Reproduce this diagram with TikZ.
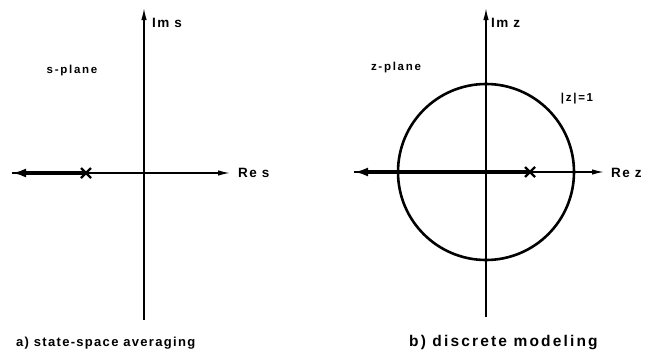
\documentclass[tikz,border=0pt]{standalone}
\usepackage{fontspec}
\setmainfont{Liberation Sans}[LetterSpace=10]
\usetikzlibrary{arrows.meta,calc}
\begin{document}
\begin{tikzpicture}[x=1pt,y=-1pt,
  axis/.style={line width=1.4pt,-{Latex[length=12pt,width=5.5pt]}},
  heavy/.style={line width=3.4pt,-{Latex[length=14pt,width=9pt]}},
  lbl/.style={inner sep=0pt,font=\bfseries\fontsize{13.5}{15}\selectfont},
  small/.style={inner sep=0pt,font=\bfseries\fontsize{11.5}{13}\selectfont\addfontfeature{LetterSpace=15}},
  captxt/.style={inner sep=0pt,font=\bfseries\fontsize{13}{16}\selectfont},
  cross/.style={line width=2.2pt}]
\useasboundingbox (0,0) rectangle (652,351);
% ---------- left panel ----------
\coordinate (aO) at (144,173);
\coordinate (aT) at (144,8);
\coordinate (aB) at (144,320);
\coordinate (aL) at (12,173);
\coordinate (aR) at (230,173);
\coordinate (aX) at (86,173);
\draw[line width=1.4pt] (aB) -- (aO);
\draw[axis] (aO) -- (aT);
\draw[axis] (aL) -- (aR);
\draw[heavy] (aX) -- (aL);
\draw[cross] ($(aX)+(-5,-5)$) -- ($(aX)+(5,5)$) ($(aX)+(-5,5)$) -- ($(aX)+(5,-5)$);
\node[lbl,anchor=west] (aIm) at (152,23) {Im s};
\node[lbl,anchor=west] (aRe) at (238,173) {Re s};
\node[small] (aPl) at (72,71) {s-plane};
\node[captxt,anchor=west] (aCap) at (16,343) {a) state-space averaging};
% ---------- right panel ----------
\coordinate (bO) at (486,172);
\coordinate (bT) at (486,8);
\coordinate (bB) at (486,317);
\coordinate (bL) at (354,172);
\coordinate (bR) at (604,172);
\coordinate (bX) at (530,172);
\draw[line width=2.6pt] (bO) circle (88);
\draw[line width=1.4pt] (bB) -- (bO);
\draw[axis] (bO) -- (bT);
\draw[axis] (bL) -- (bR);
\draw[heavy] (bX) -- (bL);
\draw[cross] ($(bX)+(-5,-5)$) -- ($(bX)+(5,5)$) ($(bX)+(-5,5)$) -- ($(bX)+(5,-5)$);
\node[lbl,anchor=west] (bIm) at (491,23) {Im z};
\node[lbl,anchor=west] (bRe) at (611,173) {Re z};
\node[small] (bPl) at (396,68) {z-plane};
\node[small] (bUc) at (577,99) {|z|=1};
\node[captxt,anchor=west] (bCap) at (409,343) {\fontsize{15.5}{18}\selectfont\addfontfeature{LetterSpace=14}b) discrete modeling};
\end{tikzpicture}
\end{document}
